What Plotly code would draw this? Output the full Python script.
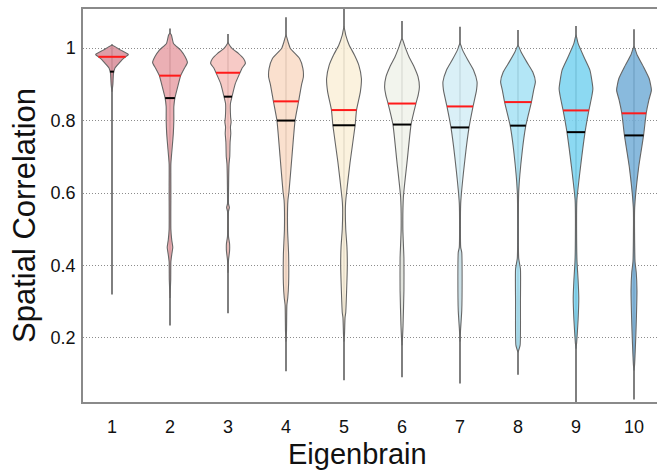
import numpy as np
import plotly.graph_objects as go

# ---------------- data ----------------
eigenbrains = ["1", "2", "3", "4", "5", "6", "7", "8", "9", "10"]
medians = [0.976, 0.924, 0.932, 0.853, 0.829, 0.847, 0.839, 0.851, 0.828, 0.820]
means = [0.935, 0.862, 0.866, 0.800, 0.787, 0.789, 0.781, 0.786, 0.768, 0.759]
maxima = [1.011, 1.054, 1.039, 1.085, 1.120, 1.075, 1.059, 1.050, 1.061, 1.052]
minima = [0.320, 0.234, 0.268, 0.108, 0.083, 0.091, 0.074, 0.098, 0.000, 0.030]

# density profiles (relative density, 1 = widest) at given correlation levels
profile_levels = [
    [1.008, 0.9945, 0.9825, 0.976, 0.967, 0.958, 0.944, 0.930, 0.90, 0.88],
    [1.041, 1.036, 1.013, 0.9945, 0.976, 0.960, 0.944, 0.925, 0.893, 0.862, 0.838, 0.80, 0.764, 0.70,
     0.68, 0.60, 0.50, 0.47, 0.45, 0.43, 0.41, 0.36, 0.31],
    [1.016, 1.013, 0.999, 0.985, 0.9715, 0.958, 0.944, 0.931, 0.902, 0.866, 0.847, 0.81, 0.796, 0.782,
     0.764, 0.74, 0.70, 0.681, 0.60, 0.57, 0.56, 0.55, 0.48, 0.46, 0.44, 0.415, 0.38],
    [1.036, 1.017, 0.999, 0.9715, 0.944, 0.921, 0.898, 0.852, 0.80, 0.70, 0.603, 0.58, 0.50, 0.43,
     0.35, 0.31, 0.29, 0.22, 0.19],
    [1.059, 1.036, 1.008, 0.981, 0.953, 0.916, 0.879, 0.829, 0.787, 0.685, 0.584, 0.56, 0.50, 0.45,
     0.40, 0.33, 0.27, 0.256, 0.21, 0.19],
    [1.027, 1.004, 0.976, 0.948, 0.921, 0.893, 0.870, 0.847, 0.789, 0.690, 0.589, 0.50, 0.42, 0.33,
     0.234, 0.20, 0.18],
    [1.013, 0.9945, 0.967, 0.939, 0.907, 0.884, 0.839, 0.781, 0.700, 0.571, 0.45, 0.436, 0.36, 0.275,
     0.22, 0.19],
    [1.008, 0.990, 0.962, 0.934, 0.907, 0.884, 0.851, 0.786, 0.718, 0.603, 0.42, 0.39, 0.30, 0.18,
     0.16],
    [1.036, 1.013, 0.976, 0.939, 0.888, 0.865, 0.828, 0.768, 0.672, 0.580, 0.45, 0.409, 0.36, 0.31,
     0.25, 0.188, 0.17],
    [1.004, 0.981, 0.948, 0.916, 0.884, 0.856, 0.820, 0.759, 0.672, 0.561, 0.45, 0.41, 0.38, 0.33,
     0.26, 0.20, 0.123, 0.11],
]
profile_density = [
    [0.0, 0.50, 0.94, 0.78, 0.56, 0.40, 0.16, 0.085, 0.05, 0.0],
    [0.0, 0.08, 0.20, 0.61, 0.87, 1.00, 0.82, 0.62, 0.44, 0.28, 0.22, 0.22, 0.19, 0.08,
     0.05, 0.05, 0.05, 0.10, 0.16, 0.10, 0.05, 0.04, 0.0],
    [0.0, 0.03, 0.23, 0.61, 0.89, 1.00, 0.80, 0.68, 0.42, 0.23, 0.14, 0.15, 0.18, 0.14,
     0.16, 0.12, 0.10, 0.06, 0.03, 0.03, 0.08, 0.03, 0.03, 0.09, 0.09, 0.03, 0.0],
    [0.0, 0.12, 0.25, 0.78, 0.97, 1.00, 0.89, 0.72, 0.52, 0.34, 0.17, 0.11, 0.09, 0.15,
     0.15, 0.10, 0.05, 0.03, 0.0],
    [0.0, 0.10, 0.30, 0.60, 0.85, 1.00, 0.94, 0.72, 0.64, 0.35, 0.11, 0.08, 0.10, 0.17,
     0.19, 0.15, 0.10, 0.06, 0.03, 0.0],
    [0.0, 0.17, 0.40, 0.70, 0.92, 1.00, 0.93, 0.80, 0.52, 0.30, 0.08, 0.05, 0.11, 0.11,
     0.06, 0.03, 0.0],
    [0.0, 0.15, 0.45, 0.78, 0.98, 0.95, 0.75, 0.52, 0.30, 0.04, 0.04, 0.10, 0.12, 0.10,
     0.03, 0.0],
    [0.0, 0.17, 0.50, 0.85, 1.00, 0.90, 0.77, 0.45, 0.25, 0.04, 0.04, 0.14, 0.14, 0.12,
     0.0],
    [0.0, 0.12, 0.45, 0.80, 0.97, 0.90, 0.74, 0.52, 0.26, 0.05, 0.04, 0.06, 0.12, 0.16,
     0.12, 0.04, 0.0],
    [0.0, 0.18, 0.55, 0.87, 1.00, 0.85, 0.70, 0.55, 0.27, 0.04, 0.04, 0.06, 0.13, 0.17,
     0.14, 0.10, 0.03, 0.0],
]

fill_colors = ["#D98F9B", "#E8A4AA", "#F6C3BE", "#F9DCC7", "#FAF0D9",
               "#F0F3EB", "#D5EEF6", "#A9E3F5", "#7CD4F0", "#79B0D8"]

y_ticks = [0.2, 0.4, 0.6, 0.8, 1.0]
y_tick_labels = ["0.2", "0.4", "0.6", "0.8", "1"]

# ---------------- figure ----------------
HALF = 0.30
fig = go.Figure()

for i, name in enumerate(eigenbrains):
    c = i + 1
    lv = np.array(profile_levels[i])
    dn = np.array(profile_density[i]) * HALF
    # whisker
    fig.add_trace(go.Scatter(x=[c, c], y=[minima[i], maxima[i]], mode="lines",
                             line=dict(color="#2a2a2a", width=1.2),
                             hoverinfo="skip", showlegend=False))
    # violin body
    xs = np.concatenate([c + dn, (c - dn)[::-1]])
    ys = np.concatenate([lv, lv[::-1]])
    rgb = tuple(int(fill_colors[i][k:k + 2], 16) for k in (1, 3, 5))
    fig.add_trace(go.Scatter(x=xs, y=ys, mode="lines", fill="toself",
                             fillcolor="rgba(%d,%d,%d,0.88)" % rgb,
                             line=dict(color="#666666", width=1.1, shape="spline", smoothing=0.5),
                             hoverinfo="skip", showlegend=False))
    # median (red) and mean (black)
    for val, col in ((medians[i], "#FF1A1A"), (means[i], "#000000")):
        w = np.interp(val, lv[::-1], dn[::-1])
        fig.add_trace(go.Scatter(x=[c - w, c + w], y=[val, val], mode="lines",
                                 line=dict(color=col, width=2),
                                 hoverinfo="skip", showlegend=False))

fig.update_layout(
    width=657, height=470,
    margin=dict(l=83, r=0, t=9, b=68, autoexpand=False),
    paper_bgcolor="white", plot_bgcolor="white",
    font=dict(family="Liberation Sans, Arial, sans-serif", color="#111"),
    annotations=[
        dict(text="Eigenbrain", xref="paper", yref="paper", x=(357 - 83) / 574, y=0,
             xanchor="center", yanchor="top", yshift=-34, showarrow=False,
             font=dict(size=29, color="#111")),
        dict(text="Spatial Correlation", xref="paper", yref="paper", x=0, y=(402 - 216) / 393,
             xanchor="center", yanchor="middle", xshift=-59, textangle=-90,
             showarrow=False, font=dict(size=31, color="#111")),
    ],
)
fig.update_xaxes(range=[0.5, 0.5 + 574 / 58], tickvals=list(range(1, 11)), ticktext=eigenbrains,
                 showline=True, linecolor="#8a8a8a", linewidth=1.5, mirror=True,
                 showgrid=False, zeroline=False, ticks="", ticklabelstandoff=8,
                 automargin=False, tickfont=dict(size=18, color="#111"))
fig.update_yaxes(range=[0.023, 1.108], tickvals=y_ticks, ticktext=y_tick_labels,
                 showline=True, linecolor="#8a8a8a", linewidth=1.5, mirror=False,
                 showgrid=True, gridcolor="#8c8c8c", griddash="1px,2px", gridwidth=1,
                 zeroline=False, ticks="", ticklabelstandoff=2,
                 automargin=False, tickfont=dict(size=18, color="#111"))

fig.write_html("out.html", config={"displayModeBar": False},
               post_script="document.body.style.margin='0';")
